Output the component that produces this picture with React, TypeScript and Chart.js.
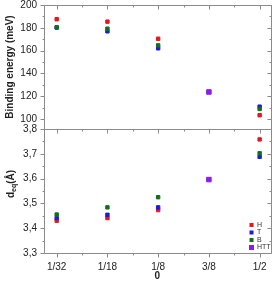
import React, { useEffect, useRef } from 'react';
import { Chart, registerables } from 'chart.js';

Chart.register(...registerables);

const categories = ['1/32', '1/18', '1/8', '3/8', '1/2'];
const seriesNames = ['H', 'T', 'B', 'HTT'];
const seriesColors = ['#e8161b', '#1c1ce0', '#13701a', '#8a1ee6'];

const bindingH = [187.5, 185.4, 170.4, null, 103.3];
const bindingT = [180.2, 176.9, 162.0, null, 110.8];
const bindingB = [180.4, 179.2, 164.6, null, 108.8];
const bindingHTT = [null, null, null, 123.7, null];

const deqH = [3.43, 3.441, 3.473, null, 3.758];
const deqT = [3.441, 3.454, 3.484, null, 3.688];
const deqB = [3.455, 3.484, 3.525, null, 3.702];
const deqHTT = [null, null, null, 3.596, null];

const bindingTicks = [100, 120, 140, 160, 180, 200];
const deqTicks = [3.3, 3.4, 3.5, 3.6, 3.7, 3.8];

const FONT = '"Liberation Sans", Arial, sans-serif';
const AXIS = '#8a8a8a';
const TEXT = '#222222';

type Val = number | null;

function toPoints(vals: Val[]) {
  const pts: { x: number; y: number }[] = [];
  vals.forEach((v, i) => {
    if (v !== null) pts.push({ x: i, y: v });
  });
  return pts;
}

function crisp(v: number) {
  return Math.round(v) + 0.5;
}

const framePlugin = {
  id: 'framePlugin',
  afterDraw(chart: any) {
    const { ctx, chartArea: a, scales } = chart;
    const x = scales.x;
    const yT = scales.yTop;
    const yB = scales.yBottom;
    const L = crisp(a.left);
    const R = crisp(a.right);
    const T = crisp(a.top);
    const B = crisp(a.bottom);
    const M = crisp(yT.bottom);
    ctx.save();
    ctx.strokeStyle = AXIS;
    ctx.lineWidth = 1;
    ctx.beginPath();
    ctx.rect(L, T, R - L, B - T);
    ctx.moveTo(L, M);
    ctx.lineTo(R, M);
    const xMajor = categories.map((_, i) => i);
    const xMinor = xMajor.slice(0, -1).map((v) => v + 0.5);
    const xTick = (v: number, len: number) => {
      const px = crisp(x.getPixelForValue(v));
      ctx.moveTo(px, B);
      ctx.lineTo(px, B + len);
      ctx.moveTo(px, T);
      ctx.lineTo(px, T + len);
      ctx.moveTo(px, M);
      ctx.lineTo(px, M + len);
    };
    xMajor.forEach((v) => xTick(v, 4));
    xMinor.forEach((v) => xTick(v, 2));
    const yTick = (scale: any, v: number, len: number) => {
      const py = crisp(scale.getPixelForValue(v));
      ctx.moveTo(L - len, py);
      ctx.lineTo(L, py);
      ctx.moveTo(R - len, py);
      ctx.lineTo(R, py);
    };
    bindingTicks.forEach((v) => yTick(yT, v, 4));
    bindingTicks.slice(0, -1).forEach((v) => yTick(yT, v + 10, 2));
    deqTicks.forEach((v) => yTick(yB, v, 4));
    deqTicks.slice(0, -1).forEach((v) => yTick(yB, v + 0.05, 2));
    ctx.stroke();

    ctx.fillStyle = TEXT;
    ctx.textBaseline = 'middle';
    ctx.textAlign = 'left';
    const big = `bold 10px ${FONT}`;
    const small = `bold 7px ${FONT}`;
    ctx.font = big;
    const wd = ctx.measureText('d').width;
    const wp = ctx.measureText('(Å)').width;
    ctx.font = small;
    const ws = ctx.measureText('eq').width;
    const total = wd + ws + wp;
    ctx.save();
    ctx.translate(11, (yB.top + yB.bottom) / 2 - 7);
    ctx.rotate(-Math.PI / 2);
    let cx = -total / 2;
    ctx.font = big;
    ctx.fillText('d', cx, 0);
    cx += wd;
    ctx.font = small;
    ctx.fillText('eq', cx, 3);
    cx += ws;
    ctx.font = big;
    ctx.fillText('(Å)', cx, 0);
    ctx.restore();

    const legendY = [225, 232.5, 240, 247.5];
    ctx.font = `7px ${FONT}`;
    ctx.textBaseline = 'middle';
    seriesNames.forEach((name, i) => {
      const s = i === 3 ? 5 : 4;
      ctx.fillStyle = seriesColors[i];
      ctx.fillRect(251.5 - s / 2, legendY[i] - s / 2, s, s);
      ctx.fillStyle = '#333333';
      ctx.fillText(name, 257, legendY[i]);
    });
    ctx.restore();
  },
};

export default function App() {
  const ref = useRef<HTMLCanvasElement | null>(null);

  useEffect(() => {
    if (!ref.current) return;
    const topSeries = [bindingH, bindingT, bindingB, bindingHTT];
    const bottomSeries = [deqH, deqT, deqB, deqHTT];
    const orders = [3, 2, 1, 0];
    const mk = (vals: Val[], i: number, axis: string) => ({
      label: seriesNames[i],
      data: toPoints(vals),
      yAxisID: axis,
      order: orders[i],
      backgroundColor: seriesColors[i],
      borderColor: seriesColors[i],
      borderWidth: 1,
      pointStyle: 'rect',
      pointRadius: i === 3 ? 3.2 : 2.4,
      pointHoverRadius: i === 3 ? 3.2 : 2.4,
      showLine: false,
    });
    const datasets = [
      ...topSeries.map((v, i) => mk(v, i, 'yTop')),
      ...bottomSeries.map((v, i) => mk(v, i, 'yBottom')),
    ];
    const tickFont = { family: FONT, size: 10 };
    const chart = new Chart(ref.current, {
      type: 'scatter',
      data: { datasets },
      plugins: [framePlugin],
      options: {
        animation: false,
        responsive: false,
        layout: { padding: { left: 0, right: 3, top: 5, bottom: 0 } },
        plugins: { legend: { display: false }, tooltip: { enabled: false } },
        scales: {
          x: {
            type: 'linear',
            position: 'bottom',
            min: -0.25,
            max: 4.22,
            afterBuildTicks: (s: any) => {
              s.ticks = categories.map((_, i) => ({ value: i }));
            },
            ticks: {
              callback: (v: any) => categories[Number(v)] ?? '',
              autoSkip: false,
              maxRotation: 0,
              padding: 8,
              font: tickFont,
              color: TEXT,
            },
            grid: { display: false, drawTicks: false },
            border: { display: false },
            title: {
              display: true,
              text: '0',
              color: TEXT,
              font: { family: FONT, size: 10, weight: 'bold', lineHeight: 1 },
              padding: { top: 0, bottom: 0 },
            },
            afterFit: (s: any) => {
              s.height = 28;
              s.paddingLeft = 0;
              s.paddingRight = 0;
            },
          },
          yBottom: {
            type: 'linear',
            position: 'left',
            stack: 'panels',
            stackWeight: 1,
            min: 3.3,
            max: 3.8,
            afterBuildTicks: (s: any) => {
              s.ticks = deqTicks.map((v) => ({ value: v }));
            },
            ticks: {
              autoSkip: false,
              padding: 7,
              font: tickFont,
              color: TEXT,
              callback: (v: any) => Number(v).toFixed(1).replace('.', ','),
            },
            grid: { display: false, drawTicks: false },
            border: { display: false },
            title: { display: false },
            afterFit: (s: any) => {
              s.width = 44;
              s.paddingTop = 0;
              s.paddingBottom = 0;
            },
          },
          yTop: {
            type: 'linear',
            position: 'left',
            stack: 'panels',
            stackWeight: 1,
            min: 91.2,
            max: 200,
            afterBuildTicks: (s: any) => {
              s.ticks = bindingTicks.map((v) => ({ value: v }));
            },
            ticks: {
              autoSkip: false,
              padding: 7,
              font: tickFont,
              color: TEXT,
              callback: (v: any) => String(v),
            },
            grid: { display: false, drawTicks: false },
            border: { display: false },
            title: {
              display: true,
              text: 'Binding energy (meV)',
              color: TEXT,
              font: { family: FONT, size: 10, weight: 'bold' },
              padding: { top: 4, bottom: 0 },
            },
            afterFit: (s: any) => {
              s.width = 44;
              s.paddingTop = 0;
              s.paddingBottom = 0;
            },
          },
        },
      } as any,
    });
    return () => chart.destroy();
  }, []);

  return (
    <canvas
      ref={ref}
      width={275}
      height={281}
      style={{ position: 'absolute', left: 0, top: 0 }}
    />
  );
}
